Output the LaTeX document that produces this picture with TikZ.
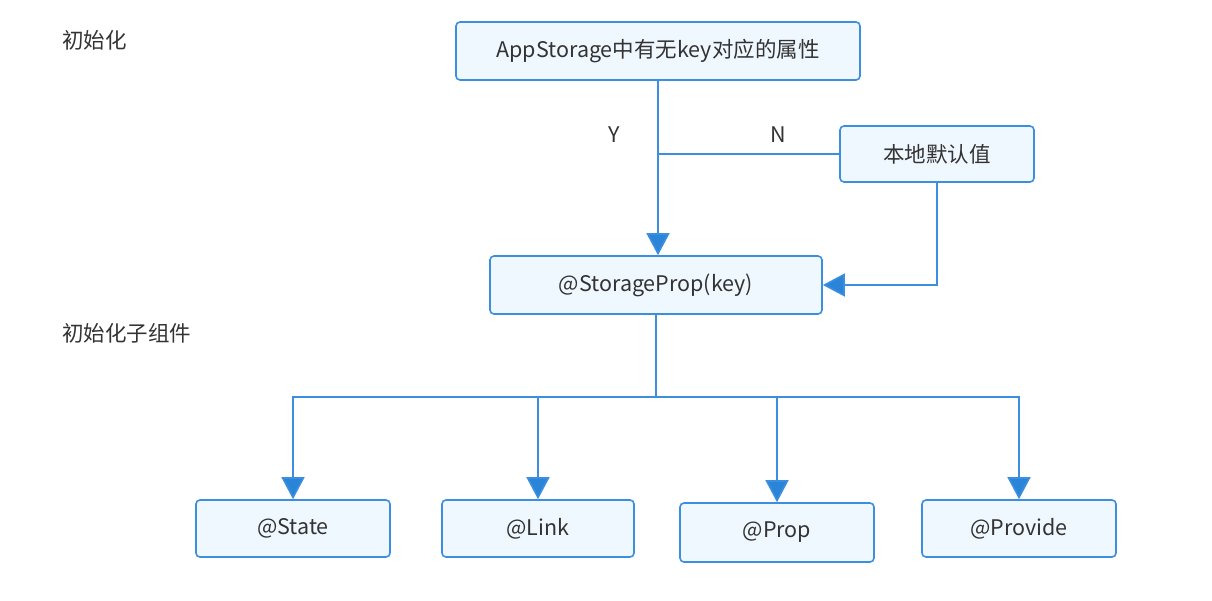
\documentclass[tikz,border=0pt]{standalone}
\usepackage{fontspec}
\setmainfont{Noto Sans CJK SC}
\usetikzlibrary{arrows.meta}
\definecolor{lineblue}{HTML}{3C8FE0}
\definecolor{tipblue}{HTML}{2A85D9}
\definecolor{boxfill}{HTML}{F0F8FF}
\definecolor{txt}{HTML}{333333}
\tikzset{
  box/.style={draw=lineblue, fill=boxfill, line width=1.6pt, rounded corners=4pt,
    text=txt, font=\fontsize{21.5pt}{25pt}\selectfont, inner sep=0pt, anchor=center},
  conn/.style={draw=lineblue, line width=1.6pt},
  arr/.style={conn, -{Triangle[width=23pt,length=22pt,fill=tipblue]}},
  lbl/.style={text=txt, font=\fontsize{21.5pt}{25pt}\selectfont, inner sep=0pt}
}
\begin{document}
\begin{tikzpicture}[x=1pt,y=-1pt]
\useasboundingbox (0,0) rectangle (1212,600);
\node[box, minimum width=404pt, minimum height=58pt] (top) at (658,51) {AppStorage中有无key对应的属性};
\node[box, minimum width=194pt, minimum height=56pt] (def) at (937,154) {本地默认值};
\node[box, minimum width=332pt, minimum height=58pt] (sp) at (656,285) {@StorageProp(key)};
\node[box, minimum width=194pt, minimum height=57pt] (st) at (293,528.5) {@State};
\node[box, minimum width=192pt, minimum height=57pt] (lk) at (538,528.5) {@Link};
\node[box, minimum width=194pt, minimum height=59pt] (pr) at (777,532.5) {@Prop};
\node[box, minimum width=194pt, minimum height=57pt] (pv) at (1019,528.5) {@Provide};
\node[lbl, anchor=west] (l1) at (62,40) {初始化};
\node[lbl, anchor=west] (l2) at (62,333) {初始化子组件};
\node[lbl] (y) at (614,135) {Y};
\node[lbl] (n) at (778,135) {N};
\coordinate (j1) at (658,154);
\coordinate (c1) at (937,285);
\coordinate (j2) at (656,397);
\draw[arr] (top.south) -- (top.south |- sp.north);
\draw[conn] (def.west) -- (j1);
\draw[arr] (def.south) -- (c1) -- (sp.east);
\draw[conn] (sp.south) -- (j2);
\draw[arr] (j2) -| (st.north);
\draw[arr] (j2) -| (lk.north);
\draw[arr] (j2) -| (pr.north);
\draw[arr] (j2) -| (pv.north);
\end{tikzpicture}
\end{document}
